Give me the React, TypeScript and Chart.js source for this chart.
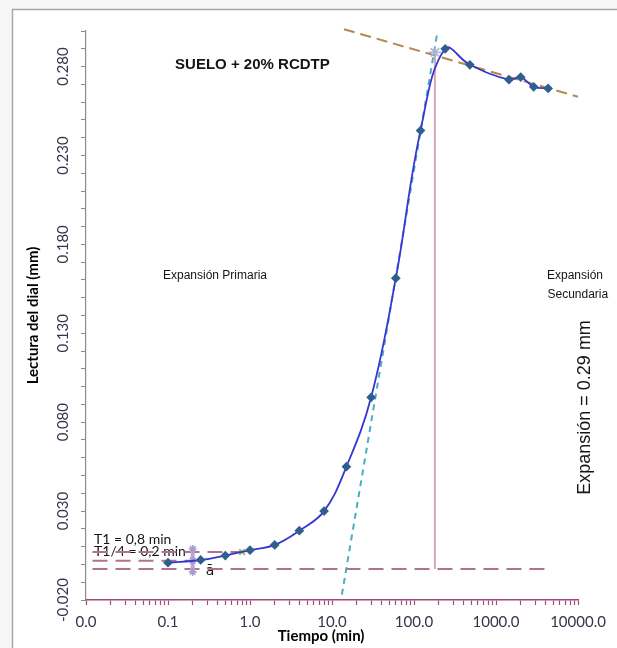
import React, { useEffect, useRef } from 'react';
import { Chart, registerables } from 'chart.js';

Chart.register(...registerables);

// ---- Data ----
const timeMin = [0.1, 0.25, 0.5, 1, 2, 4, 8, 15, 30, 60, 120, 240, 480, 1440, 2000, 2880, 4320];
const dialMm = [0.001, 0.0025, 0.005, 0.008, 0.011, 0.019, 0.030, 0.055, 0.094, 0.161, 0.244, 0.290, 0.281, 0.2726, 0.274, 0.2686, 0.2677];

const primaryTangentTime = [13.2, 194];
const primaryTangentDial = [-0.017, 0.300];

const secondaryTangentTime = [14, 10000];
const secondaryTangentDial = [0.301, 0.263];

const t100Time = [180, 180];
const t100Dial = [-0.0025, 0.288];

const baseLineTime = [0.012, 4200];
const baseLineDial = [-0.0025, -0.0025];

const t1LineTime = [0.012, 0.8];
const t1LineDial = [0.007, 0.007];

const t14LineTime = [0.012, 0.2];
const t14LineDial = [0.0021, 0.0021];

const t14MarkTime = [0.2, 0.2, 0.2];
const t14MarkDial = [0.0087, 0.0021, -0.0042];

const t1MarkTime = [0.8];
const t1MarkDial = [0.007];

const interTime = [180];
const interDial = [0.288];

// tick labels
const xDecades = [0.01, 0.1, 1, 10, 100, 1000, 10000];
const yMin = -0.02;
const yMax = 0.30;
const yLabelEvery = 5; // labelled every 0.05 starting at -0.020

const annotations = [
  { text: 'SUELO + 20% RCDTP', t: 1.07, v: 0.2807, font: 'bold 15px "Liberation Sans", Arial, sans-serif', align: 'center', rot: 0 },
  { text: 'Expansión Primaria', t: 0.374, v: 0.1625, font: '12px "Liberation Sans", Arial, sans-serif', align: 'center', rot: 0 },
  { text: 'Expansión', t: 9190, v: 0.1623, font: '12px "Liberation Sans", Arial, sans-serif', align: 'center', rot: 0 },
  { text: 'Secundaria', t: 9950, v: 0.1516, font: '12px "Liberation Sans", Arial, sans-serif', align: 'center', rot: 0 },
  { text: 'Expansión = 0.29 mm', t: 12170, v: 0.0883, font: '18px "Liberation Sans", Arial, sans-serif', align: 'center', rot: -Math.PI / 2 },
  { text: 'T1 = 0,8 min', t: 0.01252, v: 0.0143, font: '14px Lato, sans-serif', align: 'left', rot: 0 },
  { text: 'T1/4 = 0,2 min', t: 0.01252, v: 0.0072, font: '14px Lato, sans-serif', align: 'left', rot: 0 },
  { text: 'ā', t: 0.325, v: -0.004, font: '14px "DejaVu Sans", sans-serif', align: 'center', rot: 0 },
];

const pts = (xs: number[], ys: number[]) => xs.map((x, i) => ({ x, y: ys[i] }));

const framePlugin = {
  id: 'frame',
  beforeDraw(chart: any) {
    const { ctx, width, height } = chart;
    ctx.save();
    ctx.fillStyle = '#ffffff';
    ctx.fillRect(0, 0, width, height);
    ctx.fillStyle = '#f6f6f6';
    ctx.fillRect(0, 0, width, 9);
    ctx.fillRect(0, 0, 12, height);
    ctx.strokeStyle = '#a6a6a6';
    ctx.lineWidth = 1.5;
    ctx.beginPath();
    ctx.moveTo(12.5, height);
    ctx.lineTo(12.5, 9.5);
    ctx.lineTo(width, 9.5);
    ctx.stroke();
    ctx.restore();
  },
};

const textPlugin = {
  id: 'texts',
  beforeDatasetsDraw(chart: any) {
    const { ctx, scales } = chart;
    ctx.save();
    ctx.fillStyle = '#151515';
    ctx.textBaseline = 'middle';
    for (const a of annotations) {
      const px = scales.x.getPixelForValue(a.t);
      const py = scales.y.getPixelForValue(a.v);
      ctx.font = a.font;
      ctx.textAlign = a.align as CanvasTextAlign;
      ctx.save();
      ctx.translate(px, py);
      ctx.rotate(a.rot);
      ctx.fillText(a.text, 0, 0);
      ctx.restore();
    }
    ctx.restore();
  },
};

const mauve = '#b0728f';
const lineOnly = { pointRadius: 0, pointHoverRadius: 0, tension: 0, fill: false };

export default function App() {
  const ref = useRef<HTMLCanvasElement>(null);
  useEffect(() => {
    const chart = new Chart(ref.current as HTMLCanvasElement, {
      type: 'line',
      data: {
        datasets: [
          {
            label: 'Lectura',
            data: pts(timeMin, dialMm),
            borderColor: '#3636d2',
            borderWidth: 1.8,
            tension: 0.4,
            pointStyle: 'rectRot',
            pointRadius: 3.6,
            pointBackgroundColor: '#2f5f8f',
            pointBorderColor: '#2f5f8f',
            fill: false,
            order: 0,
          },
          {
            label: 'T1',
            data: pts(t1MarkTime, t1MarkDial),
            showLine: false,
            pointStyle: 'crossRot',
            pointRadius: 4,
            pointBorderWidth: 2,
            pointBorderColor: '#9bbb59',
            pointBackgroundColor: '#9bbb59',
            order: 1,
          },
          {
            label: 'T1/4',
            data: pts(t14MarkTime, t14MarkDial),
            borderColor: '#b9a8d8',
            borderWidth: 4,
            pointStyle: 'star',
            pointRadius: 4,
            pointBorderWidth: 1.5,
            pointBorderColor: '#a898cc',
            tension: 0,
            order: 2,
          },
          {
            label: 'Interseccion',
            data: pts(interTime, interDial),
            showLine: false,
            pointStyle: 'star',
            pointRadius: 6,
            pointBorderWidth: 1.5,
            pointBorderColor: '#a9b4d6',
            order: 3,
          },
          {
            label: 'Tangente primaria',
            data: pts(primaryTangentTime, primaryTangentDial),
            borderColor: '#4bacc6',
            borderWidth: 2,
            borderDash: [6, 5],
            clip: false,
            ...lineOnly,
            order: 4,
          },
          {
            label: 'Tangente secundaria',
            data: pts(secondaryTangentTime, secondaryTangentDial),
            borderColor: '#b8864f',
            borderWidth: 2,
            borderDash: [11, 6],
            clip: false,
            ...lineOnly,
            order: 5,
          },
          {
            label: 'T100',
            data: pts(t100Time, t100Dial),
            borderColor: '#dba5b5',
            borderWidth: 2,
            ...lineOnly,
            order: 6,
          },
          {
            label: 'Base',
            data: pts(baseLineTime, baseLineDial),
            borderColor: mauve,
            borderWidth: 2,
            borderDash: [15, 8],
            ...lineOnly,
            order: 7,
          },
          {
            label: 'T1 lectura',
            data: pts(t1LineTime, t1LineDial),
            borderColor: mauve,
            borderWidth: 2,
            borderDash: [15, 8],
            ...lineOnly,
            order: 8,
          },
          {
            label: 'T1/4 lectura',
            data: pts(t14LineTime, t14LineDial),
            borderColor: mauve,
            borderWidth: 2,
            borderDash: [15, 8],
            ...lineOnly,
            order: 9,
          },
        ],
      },
      options: {
        responsive: false,
        animation: false,
        layout: { padding: { left: 14, right: 39, top: 31, bottom: 0 } },
        plugins: { legend: { display: false }, tooltip: { enabled: false } },
        scales: {
          x: {
            type: 'logarithmic',
            min: 0.01,
            max: 10000,
            afterBuildTicks: (s: any) => {
              const ticks: any[] = [];
              for (let d = 0; d < xDecades.length - 1; d++) {
                for (let m = 1; m <= 9; m++) {
                  const v = xDecades[d] * m;
                  ticks.push({ value: parseFloat(v.toPrecision(6)), major: m === 1 });
                }
              }
              ticks.push({ value: xDecades[xDecades.length - 1], major: true });
              s.ticks = ticks;
            },
            afterFit: (s: any) => {
              s.height = 48;
            },
            grid: { drawOnChartArea: false, drawTicks: true, tickLength: 5, color: '#a04b78', tickColor: '#a04b78', tickWidth: 1.2 },
            border: { color: '#a04b78', width: 1.5 },
            ticks: {
              autoSkip: false,
              maxRotation: 0,
              minRotation: 0,
              padding: 8,
              color: '#34344a',
              font: { family: 'Lato, sans-serif', size: 15 },
              callback: (value: any) => {
                const v = Number(value);
                const l = Math.log10(v);
                return Math.abs(l - Math.round(l)) < 1e-6 ? v.toFixed(1) : '';
              },
            },
            title: {
              display: true,
              text: 'Tiempo (min)      ',
              color: '#000',
              font: { family: 'Lato, sans-serif', size: 15, weight: 'bold' },
              padding: { top: 0, bottom: 3 },
            },
          },
          y: {
            type: 'linear',
            min: yMin,
            max: yMax,
            afterBuildTicks: (s: any) => {
              const ticks: any[] = [];
              const n = Math.round((yMax - yMin) / 0.01);
              for (let i = 0; i <= n; i++) ticks.push({ value: Math.round((yMin + i * 0.01) * 1000) / 1000 });
              s.ticks = ticks;
            },
            afterFit: (s: any) => {
              s.width = 72;
            },
            grid: { drawOnChartArea: false, drawTicks: true, tickLength: 5, color: '#8a8a8a', tickColor: '#8a8a8a' },
            border: { color: '#8a8a8a', width: 1.2 },
            ticks: {
              autoSkip: false,
              minRotation: 90,
              maxRotation: 90,
              crossAlign: 'center',
              padding: -4,
              color: '#34344a',
              font: { family: 'Lato, sans-serif', size: 15 },
              callback: (value: any, index: number) => (index % yLabelEvery === 0 ? Number(value).toFixed(3) : ''),
            },
            title: {
              display: true,
              text: 'Lectura del dial (mm)',
              color: '#000',
              font: { family: 'Lato, sans-serif', size: 15, weight: 'bold' },
              padding: { top: 10, bottom: 0 },
            },
          },
        },
      },
      plugins: [framePlugin, textPlugin],
    } as any);
    return () => chart.destroy();
  }, []);
  return (
    <div style={{ position: 'fixed', left: 0, top: 0, width: 617, height: 648, background: '#fff' }}>
      <canvas ref={ref} width={617} height={648} style={{ display: 'block', width: 617, height: 648 }} />
    </div>
  );
}
